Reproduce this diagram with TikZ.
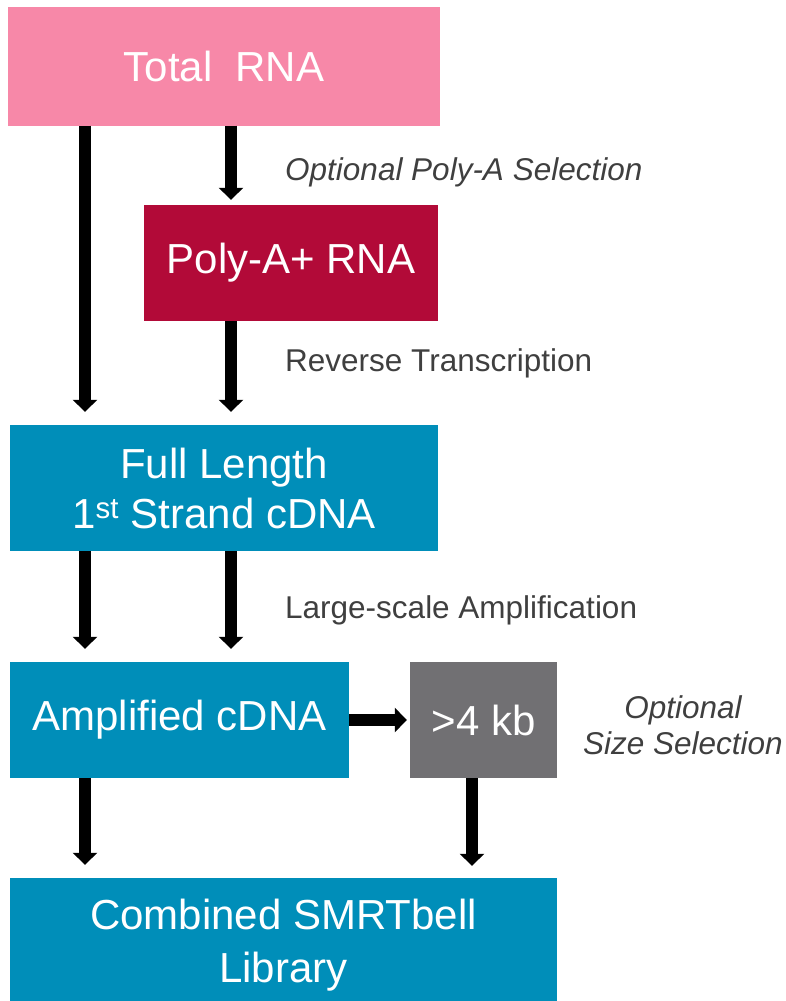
\documentclass[tikz,border=0pt]{standalone}
\usepackage{fontspec}
\setmainfont{Liberation Sans}
\usetikzlibrary{arrows.meta}
\definecolor{pinkbox}{HTML}{F788A8}
\definecolor{crimsonbox}{HTML}{B20A38}
\definecolor{tealbox}{HTML}{008EB9}
\definecolor{graybox}{HTML}{717073}
\definecolor{labelgray}{HTML}{3F3F3F}
\tikzset{
  box/.style={rectangle, inner sep=0pt, text=white, align=center,
    font=\fontsize{42}{50}\selectfont},
  lbl/.style={inner sep=0pt, text=labelgray, font=\fontsize{31.5}{36}\selectfont},
  arr/.style={line width=12pt, -{Triangle[width=24pt,length=12pt]}},
}
\begin{document}
\begin{tikzpicture}[x=1pt,y=-1pt]
\useasboundingbox (0,0) rectangle (786,1001);
\begin{scope}
\clip (0,0) rectangle (786,1001);
\node[box, fill=pinkbox, minimum width=432pt, minimum height=119pt] (total) at (224,66) {Total\ \ RNA};
\node[box, fill=crimsonbox, minimum width=294pt, minimum height=116pt] (polya) at (291,263) {Poly-A+ RNA};
\node[box, fill=tealbox, minimum width=428pt, minimum height=126pt] (full) at (224,488) {Full Length\\1\textsuperscript{st} Strand cDNA};
\node[box, fill=tealbox, minimum width=339pt, minimum height=116pt] (amp) at (179.5,720) {Amplified cDNA};
\node[box, fill=graybox, minimum width=147pt, minimum height=116pt] (kb) at (483.5,720) {>4 kb};
\node[box, fill=tealbox, minimum width=547pt, minimum height=134pt, font=\fontsize{42}{53}\selectfont] (comb) at (283.5,945) {Combined SMRTbell\\Library};
\end{scope}

\coordinate (c1) at (85,0);
\coordinate (c2) at (231,0);
\coordinate (c3) at (472,0);

\draw[arr, shorten >=13pt] (total.south -| c1) -- (full.north -| c1);
\draw[arr, shorten >=5pt] (total.south -| c2) -- (polya.north -| c2);
\draw[arr, shorten >=13pt] (polya.south -| c2) -- (full.north -| c2);
\draw[arr, shorten >=13pt] (full.south -| c1) -- (amp.north -| c1);
\draw[arr, shorten >=13pt] (full.south -| c2) -- (amp.north -| c2);
\draw[arr, shorten >=3pt] (amp.east) -- (kb.west);
\draw[arr, shorten >=13pt] (amp.south -| c1) -- (comb.north -| c1);
\draw[arr, shorten >=12pt] (kb.south -| c3) -- (comb.north -| c3);

\node[lbl, anchor=west, font=\fontsize{31.5}{36}\selectfont\itshape] (l1) at (285,172) {Optional Poly-A Selection};
\node[lbl, anchor=west] (l2) at (285,363) {Reverse Transcription};
\node[lbl, anchor=west] (l3) at (285,610) {Large-scale Amplification};
\node[lbl, align=center, font=\fontsize{31.5}{36}\selectfont\itshape] (l4) at (683,725) {Optional\\Size Selection};
\end{tikzpicture}
\end{document}
